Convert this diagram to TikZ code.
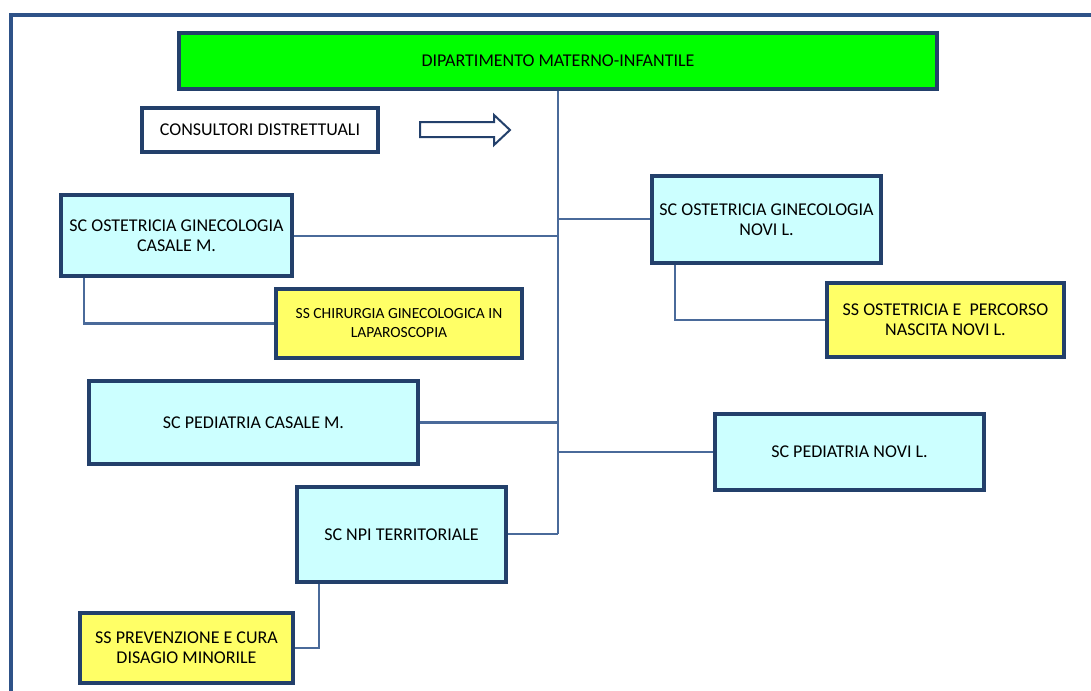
\documentclass[tikz,border=0pt]{standalone}
\usepackage{fontspec}
\setmainfont{Carlito}
\usepackage{xcolor}
\usepackage{tikz}

\definecolor{framecol}{HTML}{2E5288}
\definecolor{edgecol}{HTML}{23406B}
\definecolor{linkcol}{HTML}{4A6A9A}
\definecolor{deptgreen}{HTML}{00FF00}
\definecolor{unitcyan}{HTML}{CCFFFF}
\definecolor{subyellow}{HTML}{FFFF66}

\begin{document}
\begin{tikzpicture}[x=1pt,y=-1pt,font=\fontsize{18}{20}\selectfont]
    \useasboundingbox (0,0) rectangle (1091,690);

    \tikzset{
        unitbox/.style={draw=edgecol,line width=3.2pt,fill=unitcyan,
            inner sep=0pt,align=center},
        subbox/.style={unitbox,fill=subyellow},
        link/.style={draw=linkcol,line width=2.4pt}
    }

    % box from its corners: name, x1, y1, x2, y2, style, text
    \newcommand{\orgbox}[7]{%
        \node[#6,minimum width={#4-#2},minimum height={#5-#3}]
            (#1) at ({0.5*(#2+#4)},{0.5*(#3+#5)}) {#7};
    }

    % outer frame
    \draw[framecol,line width=3.4pt] (11,693) -- (11,15) -- (1094,15);

    \orgbox{dept}{179}{33}{937}{89}{unitbox,fill=deptgreen}
        {DIPARTIMENTO MATERNO-INFANTILE}
    \orgbox{consult}{142}{108}{378}{152}{unitbox,fill=white}
        {CONSULTORI DISTRETTUALI}

    % hollow arrow
    \draw[edgecol,line width=2pt,fill=white]
        (420,122) -- (494,122) -- (494,115) -- (510,130)
        -- (494,145) -- (494,137) -- (420,137) -- cycle;

    \orgbox{ogcasale}{61}{195}{292}{276}{unitbox}
        {SC OSTETRICIA GINECOLOGIA\\CASALE M.}
    \orgbox{chir}{276}{289}{522}{358}{subbox,font=\fontsize{15.5}{19}\selectfont}
        {SS CHIRURGIA GINECOLOGICA IN\\LAPAROSCOPIA}
    \orgbox{ognovi}{652}{176}{881}{263}{unitbox}
        {SC OSTETRICIA GINECOLOGIA\\NOVI L.}
    \orgbox{percorso}{827}{283}{1064}{357}{subbox}
        {SS OSTETRICIA E\ \ PERCORSO\\NASCITA NOVI L.}
    \orgbox{pedcasale}{89}{381}{418}{464}{unitbox}
        {SC PEDIATRIA CASALE M.}
    \orgbox{pednovi}{715}{414}{984}{490}{unitbox}
        {SC PEDIATRIA NOVI L.}
    \orgbox{npi}{297}{487}{506}{582}{unitbox}
        {SC NPI TERRITORIALE}
    \orgbox{disagio}{80}{613}{293}{683}{subbox}
        {SS PREVENZIONE E CURA\\DISAGIO MINORILE}

    % trunk
    \coordinate (trunkend) at (558,534);
    \draw[link] (dept.south -| trunkend) -- (trunkend);

    % branches
    \draw[link] (ogcasale.east |- 0,236) -- (trunkend |- 0,236);
    \draw[link] (trunkend |- 0,219) -- (ognovi.west |- 0,219);
    \draw[link] (pedcasale.east) -- (pedcasale.east -| trunkend);
    \draw[link] (trunkend |- pednovi.west) -- (pednovi.west);
    \draw[link] (npi.east |- trunkend) -- (trunkend);

    % sub units
    \draw[link] (ogcasale.south -| 84,0) |- (chir.west);
    \draw[link] (ognovi.south -| 675,0) |- (percorso.west);
    \draw[link] (npi.south -| 319,0) |- (disagio.east);
\end{tikzpicture}
\end{document}
